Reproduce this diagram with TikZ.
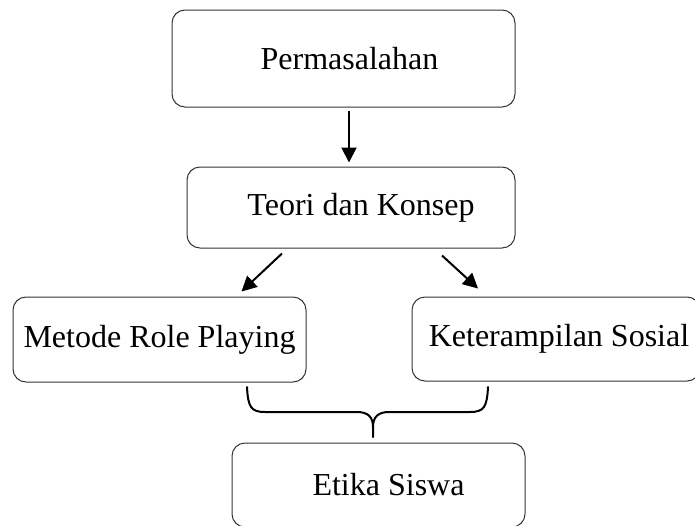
\documentclass[tikz,border=0pt]{standalone}
\usepackage{fontspec}
\setmainfont{Liberation Serif}
\usepackage{tikz}
\usetikzlibrary{arrows.meta,positioning,calc}

\begin{document}
\begin{tikzpicture}[x=1pt,y=-1pt]
\tikzstyle{fleche}=[->,>={Triangle[length=15pt,width=15pt]},line width=2pt]
\tikzstyle{boite}=[draw=black!80,line width=1pt,rounded corners=13pt,inner sep=0pt,font=\fontsize{32}{38}\selectfont]
\tikzstyle{accolade}=[line width=2pt,line cap=round]
\useasboundingbox (0,0) rectangle (695,525);
\node[boite,minimum width=343pt,minimum height=97pt] (P) at (343.5,58.5) {\hspace{12pt}Permasalahan};
\node[boite,minimum width=328pt,minimum height=81pt] (T) at (351,207.5) {\hspace{20pt}Teori dan Konsep};
\node[boite,minimum width=293pt,minimum height=85pt] (M) at (159.5,339.5) {Metode Role Playing};
\node[boite,minimum width=288pt,minimum height=84pt] (K) at (556,339) {\hspace{6pt}Keterampilan Sosial};
\node[boite,minimum width=293pt,minimum height=84pt] (E) at (378.5,485) {\hspace{20pt}Etika Siswa};
\draw[fleche] ([xshift=5.5pt,yshift=-3pt]P.south)--([xshift=-2pt,yshift=4pt]T.north);
\draw[fleche] ([xshift=-69pt,yshift=-5pt]T.south)--([xshift=82pt,yshift=5pt]M.north);
\draw[fleche] ([xshift=91pt,yshift=-7pt]T.south)--([xshift=-78pt,yshift=8pt]K.north);
% accolade sous les deux boites
\coordinate (AccG) at (247,387);
\coordinate (AccM) at (373,437);
\coordinate (AccD) at (488,387);
\draw[accolade] (AccG) .. controls ($(AccG)+(1,20)$) and ($(AccG)+(4,25)$) .. ($(AccG)+(18,25)$)
  -- ($(AccM)+(-16,-25)$) .. controls ($(AccM)+(-5,-25)$) and ($(AccM)+(0,-20)$) .. ($(AccM)+(0,-10)$)
  -- (AccM);
\draw[accolade] ($(AccM)+(0,-10)$) .. controls ($(AccM)+(0,-20)$) and ($(AccM)+(5,-25)$) .. ($(AccM)+(16,-25)$)
  -- ($(AccD)+(-18,25)$) .. controls ($(AccD)+(-4,25)$) and ($(AccD)+(-1,20)$) .. (AccD);
\end{tikzpicture}
\end{document}
